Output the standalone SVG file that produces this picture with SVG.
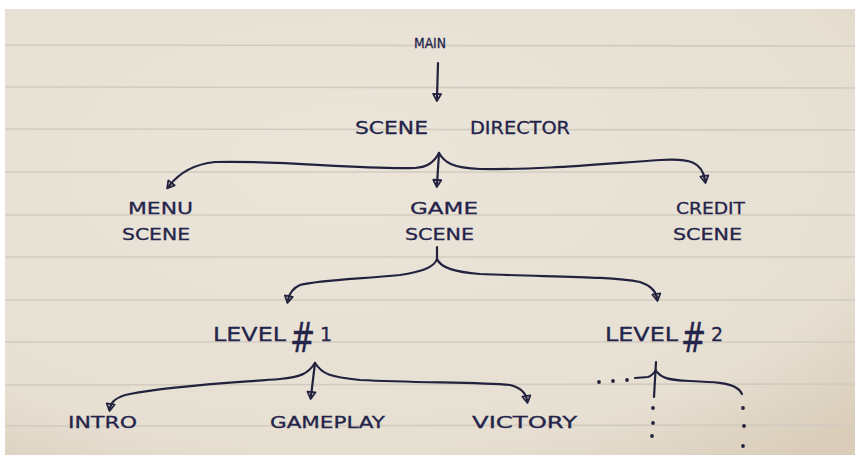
<svg xmlns="http://www.w3.org/2000/svg" width="859" height="465" viewBox="0 0 859 465">
<defs>
<radialGradient id="paper" cx="0.4" cy="0.35" r="0.85">
<stop offset="0" stop-color="#ebe5da"/>
<stop offset="0.75" stop-color="#e6dfd2"/>
<stop offset="1" stop-color="#d9ccb8"/>
</radialGradient>
<marker id="ah" markerWidth="12" markerHeight="12" refX="6" refY="6" orient="auto" markerUnits="userSpaceOnUse">
<path d="M2,2 L9,6 L2,10 Z" fill="none" stroke="#22223f" stroke-width="1.8" stroke-linejoin="round"/>
</marker>
</defs>
<style>
.ink{fill:none;stroke:#22223f;stroke-width:2.2;stroke-linecap:round;stroke-linejoin:round}
.rule{stroke:#d2cbbf;stroke-width:1.6}
.t{font-family:"DejaVu Sans","Liberation Sans",sans-serif;fill:#24244a;font-size:16px;stroke:#24244a;stroke-width:0.3}
.tl{font-family:"DejaVu Sans","Liberation Sans",sans-serif;fill:#24244a;font-size:19px;stroke:#24244a;stroke-width:0.3}
.hash{font-size:30px}
.dot{fill:#22223f}
</style>
<rect x="0" y="0" width="859" height="465" fill="#ffffff"/>
<rect x="5" y="9" width="850" height="446" fill="url(#paper)"/>
<g id="paper-lines">
<line class="rule" x1="5" y1="45" x2="855" y2="46"/>
<line class="rule" x1="5" y1="87" x2="855" y2="88"/>
<line class="rule" x1="5" y1="129" x2="855" y2="130"/>
<line class="rule" x1="5" y1="172" x2="855" y2="172"/>
<line class="rule" x1="5" y1="215" x2="855" y2="215"/>
<line class="rule" x1="5" y1="257" x2="855" y2="257"/>
<line class="rule" x1="5" y1="300" x2="855" y2="300"/>
<line class="rule" x1="5" y1="342" x2="855" y2="342"/>
<line class="rule" x1="5" y1="385" x2="855" y2="384"/>
<line class="rule" x1="5" y1="426" x2="855" y2="425"/>
</g>

<g id="connectors">
<path class="ink" d="M438,63 L437,98" marker-end="url(#ah)"/>
<path class="ink" d="M439,153 C434,162 428,167 415,168 C360,170 280,160 215,162 C195,164 180,172 169,186" marker-end="url(#ah)"/>
<path class="ink" d="M439,153 L437,184" marker-end="url(#ah)"/>
<path class="ink" d="M439,153 C444,162 452,168 480,169 C540,170 600,164 660,160 C690,158 702,162 705,180" marker-end="url(#ah)"/>
<path class="ink" d="M437,247 L437,259 C434,268 420,272 400,275 C360,279 320,280 300,285 C291,289 289,295 288,300" marker-end="url(#ah)"/>
<path class="ink" d="M437,259 C441,268 455,272 480,274 C550,277 610,276 640,282 C652,286 656,292 657,298" marker-end="url(#ah)"/>
<path class="ink" d="M315,363 C308,374 300,377 280,379 C230,383 170,386 130,394 C115,397 111,402 110,408" marker-end="url(#ah)"/>
<path class="ink" d="M315,363 L311,396" marker-end="url(#ah)"/>
<path class="ink" d="M315,363 C322,374 330,377 360,380 C420,383 480,382 510,385 C522,388 526,394 527,400" marker-end="url(#ah)"/>
<path class="ink" d="M656,362 L654,397"/>
<path class="ink" d="M635,378 L648,377 C651,376 654,373 656,370"/>
<path class="ink" d="M657,372 C662,378 668,380 690,381 C715,382 728,383 735,387 C739,389 741,392 742,394"/>
<circle class="dot" cx="599" cy="382" r="1.9"/>
<circle class="dot" cx="613" cy="381" r="1.9"/>
<circle class="dot" cx="627" cy="380" r="1.9"/>
<circle class="dot" cx="653" cy="408" r="1.9"/>
<circle class="dot" cx="653" cy="423" r="1.9"/>
<circle class="dot" cx="652" cy="436" r="1.9"/>
<circle class="dot" cx="743" cy="408" r="1.9"/>
<circle class="dot" cx="744" cy="426" r="1.9"/>
<circle class="dot" cx="743" cy="446" r="1.9"/>
</g>

<g id="main"><text class="t" x="414" y="48" textLength="32" lengthAdjust="spacingAndGlyphs" style="font-size:14px">MAIN</text></g>
<g id="scene-director">
<text class="t" x="355" y="134" textLength="73" lengthAdjust="spacingAndGlyphs" style="font-size:17px">SCENE</text>
<text class="t" x="470" y="134" textLength="100" lengthAdjust="spacingAndGlyphs" style="font-size:17px">DIRECTOR</text>
</g>
<g id="menu-scene">
<text class="t" x="128" y="214" textLength="65" lengthAdjust="spacingAndGlyphs">MENU</text>
<text class="t" x="122" y="240" textLength="68" lengthAdjust="spacingAndGlyphs">SCENE</text>
</g>
<g id="game-scene">
<text class="t" x="410" y="214" textLength="68" lengthAdjust="spacingAndGlyphs">GAME</text>
<text class="t" x="405" y="240" textLength="69" lengthAdjust="spacingAndGlyphs">SCENE</text>
</g>
<g id="credit-scene">
<text class="t" x="676" y="214" textLength="69" lengthAdjust="spacingAndGlyphs">CREDIT</text>
<text class="t" x="673" y="240" textLength="69" lengthAdjust="spacingAndGlyphs">SCENE</text>
</g>
<g id="level-1">
<text class="tl" x="213" y="341" textLength="73" lengthAdjust="spacingAndGlyphs">LEVEL</text>
<text class="tl" transform="translate(290,352) scale(1,1.35)"><tspan class="hash" x="0" y="0">#</tspan></text>
<text class="tl" x="320" y="341">1</text>
</g>
<g id="level-2">
<text class="tl" x="605" y="341" textLength="73" lengthAdjust="spacingAndGlyphs">LEVEL</text>
<text class="tl" transform="translate(681,352) scale(1,1.35)"><tspan class="hash" x="0" y="0">#</tspan></text>
<text class="tl" x="711" y="341">2</text>
</g>
<g id="intro"><text class="t" x="68" y="428" textLength="69" lengthAdjust="spacingAndGlyphs">INTRO</text></g>
<g id="gameplay"><text class="t" x="270" y="428" textLength="115" lengthAdjust="spacingAndGlyphs">GAMEPLAY</text></g>
<g id="victory"><text class="t" x="472" y="428" textLength="105" lengthAdjust="spacingAndGlyphs">VICTORY</text></g>
</svg>
